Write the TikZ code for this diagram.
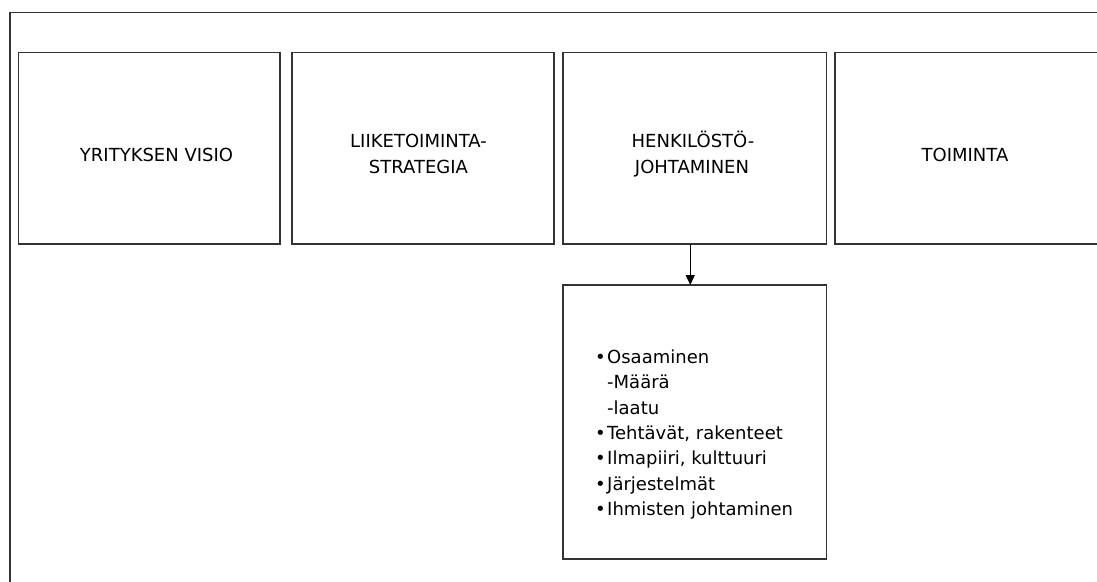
\documentclass[tikz,border=0pt]{standalone}
\usepackage{fontspec}
\setmainfont{DejaVu Sans}
\usetikzlibrary{arrows.meta}
\definecolor{edge}{HTML}{333333}
\tikzset{
  box/.style={draw=edge, line width=1.8pt, inner sep=0pt, outer sep=0pt},
  lbl/.style={inner sep=0pt, anchor=base, font=\fontsize{18}{22}\selectfont, text=black},
  item/.style={inner sep=0pt, anchor=base west, font=\fontsize{18}{22}\selectfont, text=black},
  arr/.style={draw=black, line width=1.5pt, -{Triangle[length=10pt,width=9pt]}},
  frame/.style={draw=edge, line width=1.9pt}
}
\begin{document}
\begin{tikzpicture}[x=1pt,y=-1pt]
\useasboundingbox (0,0) rectangle (1097,581);
\clip (0,0) rectangle (1097,581);
% outer frame (open to right and bottom)
\draw[frame] (1110,12.5) -- (10,12.5) -- (10,600);
% top row boxes
\node[box, minimum width=261.5pt, minimum height=191.5pt] (b1) at (149.25,148.25) {};
\node[box, minimum width=262pt, minimum height=191.5pt] (b2) at (423,148.25) {};
\node[box, minimum width=263.5pt, minimum height=191.5pt] (b3) at (694.75,148.25) {};
\node[box, minimum width=275pt, minimum height=191.5pt] (b4) at (972.5,148.25) {};
% lower box
\node[box, minimum width=263.5pt, minimum height=274pt] (low) at (694.75,422) {};
% labels
\node[lbl] (t1) at (156.5,161.7) {YRITYKSEN VISIO};
\node[lbl] (t2a) at (418.5,147) {LIIKETOIMINTA-};
\node[lbl] (t2b) at (418.5,173.3) {STRATEGIA};
\node[lbl] (t3a) at (693,147.5) {HENKILÖSTÖ-};
\node[lbl] (t3b) at (692,173.3) {JOHTAMINEN};
\node[lbl] (t4) at (965,161.7) {TOIMINTA};
% list
\node[item] (l1) at (595,363.3) {\makebox[12pt][l]{•}Osaaminen};
\node[item] (l2) at (595,388.7) {\hspace{12pt}-Määrä};
\node[item] (l3) at (595,414.1) {\hspace{12pt}-laatu};
\node[item] (l4) at (595,439.5) {\makebox[12pt][l]{•}Tehtävät, rakenteet};
\node[item] (l5) at (595,464.9) {\makebox[12pt][l]{•}Ilmapiiri, kulttuuri};
\node[item] (l6) at (595,490.3) {\makebox[12pt][l]{•}Järjestelmät};
\node[item] (l7) at (595,515.7) {\makebox[12pt][l]{•}Ihmisten johtaminen};
% arrow
\draw[arr] ([xshift=-4.5pt]b3.south) -- ([xshift=-4.5pt]low.north);
\end{tikzpicture}
\end{document}
